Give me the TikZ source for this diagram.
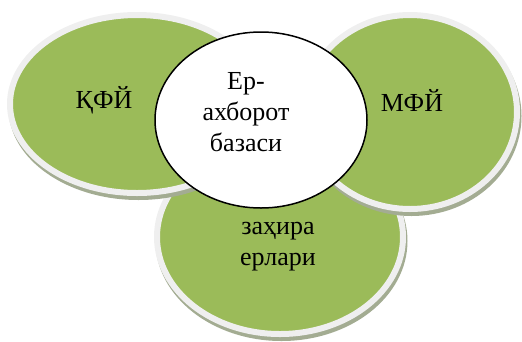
\documentclass[tikz,border=0pt]{standalone}
\usepackage{fontspec}
\setmainfont{Liberation Serif}
\usetikzlibrary{shapes.geometric}
\definecolor{vgreen}{HTML}{9BBB59}
\definecolor{ringgray}{HTML}{EFEFEF}
\definecolor{shadowcol}{HTML}{A3AC92}
\tikzset{
  greenell/.style={ellipse, inner sep=0pt, fill=vgreen, draw=ringgray, line width=6pt,
    preaction={draw=shadowcol, fill=shadowcol, line width=6pt,
      transform canvas={xshift=1.5pt, yshift=-4pt}}},
  whiteell/.style={ellipse, inner sep=0pt, fill=white, draw=black, line width=1.5pt},
  lbl/.style={inner sep=0pt, align=center, font=\fontsize{26}{31}\selectfont}
}
\begin{document}
\begin{tikzpicture}[x=1pt, y=-1pt]
\useasboundingbox (0,0) rectangle (522,341);
% bottom ellipse
\node[greenell, minimum width=246pt, minimum height=194pt] (reserve) at (280,237) {};
\node[lbl, anchor=base] (reservetxt) at (278,265) {\strut\\заҳира\\ерлари};
% left ellipse
\node[greenell, minimum width=254pt, minimum height=178pt] (kfy) at (137,104) {};
\node[lbl] (kfytxt) at (104,100) {ҚФЙ};
% right ellipse
\node[greenell, minimum width=214pt, minimum height=194pt] (mfy) at (410,112) {};
\node[lbl] (mfytxt) at (412,100) {МФЙ};
% centre ellipse
\node[whiteell, minimum width=212pt, minimum height=176pt] (base) at (261,120) {};
\node[lbl, anchor=base] (basetxt) at (246,151) {Ер-\\ахборот\\базаси};
\end{tikzpicture}
\end{document}
